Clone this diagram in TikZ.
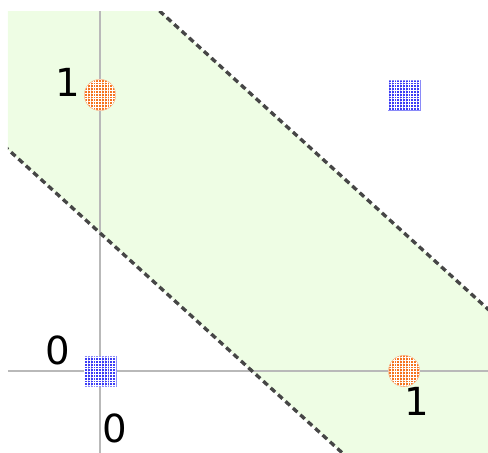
\documentclass[tikz,border=0pt]{standalone}
\usepackage{fontspec}
\setmainfont{DejaVu Sans}
\usetikzlibrary{patterns.meta}
\definecolor{bandcolor}{RGB}{238, 253, 228}
\definecolor{axiscolor}{RGB}{185, 185, 185}
\definecolor{edgecolor}{RGB}{70, 70, 70}
\definecolor{onecolor}{RGB}{245, 115, 30}
\definecolor{zerocolor}{RGB}{60, 60, 245}

\begin{document}
\begin{tikzpicture}[
    x=6.08cm, y=5.52cm,
    axis/.style={axiscolor, line width=0.7pt},
    margin/.style={edgecolor, line width=1.9pt, dash pattern=on 3.4pt off 2.3pt},
    hatched/.style={inner sep=0pt, postaction={pattern={Hatch[angle=0, distance=1.6pt, line width=0.22pt]}, pattern color=white}},
    classone/.style={hatched, circle, minimum size=0.62cm, fill=onecolor, draw=onecolor!60},
    classzero/.style={hatched, rectangle, minimum width=0.64cm, minimum height=0.6cm, fill=zerocolor, draw=zerocolor!60},
    ticklabel/.style={font=\fontsize{22}{26}\selectfont},
  ]

  \def\xmin{-0.303}  % left edge of the plot
  \def\xmax{1.3}     % right edge
  \def\ymin{-0.3}    % bottom edge
  \def\ymax{1.304}   % top edge

  \useasboundingbox (-0.329, -0.297) rectangle (1.276, 1.344);

  % --- band between x+y=0.5 and x+y=1.5 ---
  \begin{scope}
    \clip (\xmin, \ymin) rectangle (\xmax, \ymax);
    \fill[bandcolor] (-1, 2.5) -- (2.5, -1) -- (2.5, -2) -- (-1, 1.5) -- cycle;
    \draw[axis] (\xmin, 0) -- (\xmax, 0);
    \draw[axis] (0, \ymin) -- (0, \ymax);
    \draw[margin] (-1, 2.5) -- (2.5, -1);
    \draw[margin] (-1, 1.5) -- (2.5, -2);
  \end{scope}

  % --- points ---
  \node[classzero] (p00) at (0, 0) {};
  \node[classzero] (p11) at (1, 1) {};
  \node[classone] (p01) at (0, 1) {};
  \node[classone] (p10) at (1, 0) {};

  % --- tick labels ---
  \node[ticklabel] (ylab1) at (-0.107, 1.045) {1};
  \node[ticklabel] (ylab0) at (-0.14, 0.074) {0};
  \node[ticklabel] (xlab0) at (0.049, -0.208) {0};
  \node[ticklabel] (xlab1) at (1.043, -0.109) {1};

\end{tikzpicture}
\end{document}
